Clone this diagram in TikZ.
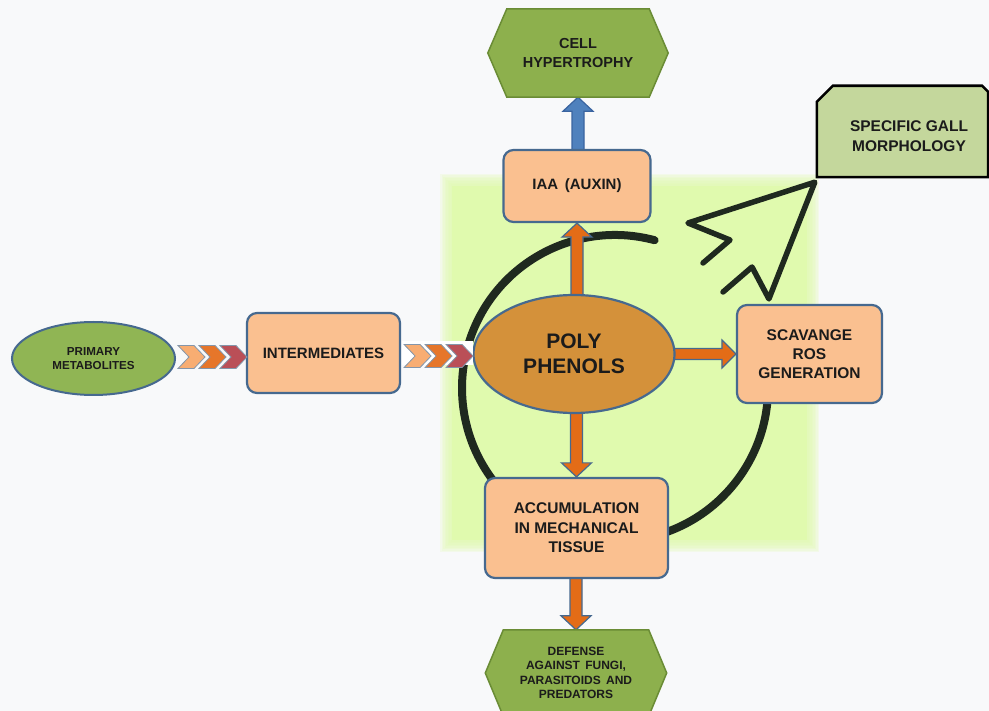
\documentclass[tikz,border=0pt]{standalone}
\usepackage{fontspec}
\setmainfont{Liberation Sans}
\usetikzlibrary{shapes.geometric,calc}
\pgfdeclarelayer{bg}\pgfdeclarelayer{mid}\pgfdeclarelayer{shp}
\pgfsetlayers{bg,mid,shp,main}
\definecolor{bgc}{HTML}{F8F9FA}
\definecolor{glowc}{HTML}{E0FAAE}
\definecolor{peach}{HTML}{FAC090}
\definecolor{boxline}{HTML}{46698F}
\definecolor{orangeA}{HTML}{E36C17}
\definecolor{blueA}{HTML}{4F81BD}
\definecolor{blueL}{HTML}{3A64A0}
\definecolor{olive}{HTML}{8DB04D}
\definecolor{hexline}{HTML}{6A8C35}
\definecolor{primc}{HTML}{90B554}
\definecolor{gallc}{HTML}{C4D79C}
\definecolor{ambc}{HTML}{D4913A}
\definecolor{cA}{HTML}{F8AD72}
\definecolor{cB}{HTML}{E6762A}
\definecolor{cC}{HTML}{BA4F57}
\definecolor{chevline}{HTML}{8496AA}
\definecolor{dark}{HTML}{1F291F}
\definecolor{txt}{HTML}{1B1B1B}
\tikzset{
  box/.style={draw=boxline, line width=2.2pt, fill=peach, rounded corners=10pt, inner sep=0pt, text=txt, align=center},
  hexnode/.style={inner sep=0pt, align=center, text=txt},
  hexfill/.style={fill=olive, draw=hexline, line width=1.5pt, line join=miter},
  oarrow/.style={fill=orangeA, draw=boxline, line width=1.2pt, line join=miter},
  barrow/.style={fill=blueA, draw=blueL, line width=1.2pt, line join=miter},
  arcline/.style={draw=dark, line width=8pt, line cap=round},
  cursorline/.style={draw=dark, line width=5.5pt, line cap=round, line join=round},
  upblock/.style={to path={let \p1=(\tikztostart), \p2=(\tikztotarget) in
     (\x2-6,\y1) -- (\x2-6,\y2-14) -- (\x2-15,\y2-14) -- (\x2,\y2) -- (\x2+15,\y2-14) -- (\x2+6,\y2-14) -- (\x2+6,\y1) -- cycle}},
  downblock/.style={to path={let \p1=(\tikztostart), \p2=(\tikztotarget) in
     (\x2-6,\y1) -- (\x2-6,\y2+14) -- (\x2-15,\y2+14) -- (\x2,\y2) -- (\x2+15,\y2+14) -- (\x2+6,\y2+14) -- (\x2+6,\y1) -- cycle}},
  rightblock/.style={to path={let \p1=(\tikztostart), \p2=(\tikztotarget) in
     (\x1,\y2+5.5) -- (\x2-14,\y2+5.5) -- (\x2-14,\y2+14) -- (\x2,\y2) -- (\x2-14,\y2-14) -- (\x2-14,\y2-5.5) -- (\x1,\y2-5.5) -- cycle}},
  chev/.pic={
    \foreach \i/\c in {0/cA,21/cB,42/cC} {
      \draw[draw=chevline, line width=0.8pt, fill=\c, line join=miter] (\i,11.5) -- (\i+16,11.5) -- (\i+27,0) -- (\i+16,-11.5) -- (\i,-11.5) -- (\i+11,0) -- cycle;
    }
  }
}
\begin{document}
\begin{tikzpicture}[x=1pt,y=1pt]
\useasboundingbox (0,0) rectangle (989,-711);
\begin{pgfonlayer}{bg}
  \fill[bgc] (0,0) rectangle (989,-711);
  \foreach \k in {1,...,8} {
    \fill[glowc, opacity=0.2] (452-\k*1.5,-186+\k*1.5) rectangle (807+\k*1.5,-540-\k*1.5);
  }
  \fill[glowc] (452,-186) rectangle (807,-540);
\end{pgfonlayer}

% nodes
\node[hexnode, minimum width=142, minimum height=88, font=\bfseries\fontsize{14.5}{18.5}\selectfont] (hyp) at (578,-53) {CELL\\HYPERTROPHY};
\node[box, minimum width=147, minimum height=72, font=\bfseries\fontsize{15}{18}\selectfont] (iaa) at (577,-186) {IAA \,(AUXIN)};
\node[inner sep=0pt, minimum width=171, minimum height=91] (gall) at (902.5,-131.5) {};
\node[inner sep=0pt, align=center, text=txt, font=\bfseries\fontsize{15.5}{20}\selectfont] (galltext) at (909,-136) {SPECIFIC GALL\\MORPHOLOGY};
\node[ellipse, draw=boxline, line width=2.2pt, fill=ambc, minimum width=201, minimum height=118, inner sep=0pt, align=center, text=txt, font=\bfseries\fontsize{21}{25}\selectfont] (ell) at (574,-354) {POLY\\PHENOLS};
\node[box, minimum width=145, minimum height=98, font=\bfseries\fontsize{15.5}{19}\selectfont] (scav) at (809.5,-354) {SCAVANGE\\ROS\\GENERATION};
\node[box, minimum width=183, minimum height=100, font=\bfseries\fontsize{15.5}{19.5}\selectfont] (acc) at (576.5,-528) {ACCUMULATION\\IN MECHANICAL\\TISSUE};
\node[hexnode, minimum width=145, minimum height=86, font=\bfseries\fontsize{12}{14.3}\selectfont] (def) at (576,-673) {DEFENSE\\AGAINST \,FUNGI,\\PARASITOIDS \,AND\\PREDATORS};
\node[ellipse, draw=boxline, line width=2pt, fill=primc, minimum width=163, minimum height=73, inner sep=0pt, align=center, text=txt, font=\bfseries\fontsize{11.6}{14}\selectfont] (prim) at (93.5,-358.5) {PRIMARY\\METABOLITES};
\node[box, minimum width=153, minimum height=80, font=\bfseries\fontsize{15}{18}\selectfont] (inter) at (323.5,-353) {INTERMEDIATES};

% shapes under the texts
\begin{pgfonlayer}{shp}
  \draw[hexfill] (hyp.north west) -- (hyp.north east) -- ($(hyp.east)+(19,0)$) -- (hyp.south east) -- (hyp.south west) -- ($(hyp.west)+(-19,0)$) -- cycle;
  \draw[hexfill] (def.north west) -- (def.north east) -- ($(def.east)+(18,0)$) -- (def.south east) -- (def.south west) -- ($(def.west)+(-18,0)$) -- cycle;
  \draw[fill=gallc, draw=black, line width=2.6pt, line join=miter] (gall.south west) -- ($(gall.north west)+(0,-16)$) -- ($(gall.north west)+(16,0)$) -- ($(gall.north east)+(-6,0)$) -- ($(gall.north east)+(0,-6)$) -- (gall.south east) -- cycle;
\end{pgfonlayer}

% block arrows
\begin{pgfonlayer}{mid}
  \draw[barrow] ($(iaa.north)+(0,-3)$) to[upblock] (hyp.south);
  \draw[oarrow] ($(ell.north)+(0,-4)$) to[upblock] (iaa.south);
  \draw[oarrow] ($(ell.south)+(0,4)$) to[downblock] (acc.north);
  \draw[oarrow] ($(acc.south)+(0,4)$) to[downblock] (def.north);
  \draw[oarrow] ($(ell.east)+(-4,0)$) to[rightblock] (scav.west);
\end{pgfonlayer}

% circle and cursor
\coordinate (ctip) at ($(gall.south west)+(-2,-5)$);
\coordinate (cbase) at ($(scav.north west)+(33,5)$);
\begin{pgfonlayer}{bg}
  \draw[arcline] ([shift={(75:153)}]615,-388) arc[start angle=75, end angle=225, radius=153];
  \draw[arcline] ([shift={(-80:153)}]615,-388) arc[start angle=-80, end angle=0, radius=153];
  \draw[cursorline] (703,-263) -- (730,-240) -- (688,-223) -- (ctip) -- (cbase) -- (752,-267) -- (723,-292);
\end{pgfonlayer}

% chevrons
\pic (chA) at ($(prim.east)+(2,1.5)$) {chev};
\fill[white] ($(inter.east)+(1,12)$) rectangle ($(inter.east)+(72,-12)$);
\pic (chB) at ($(inter.east)+(3,-3)$) {chev};
\end{tikzpicture}
\end{document}
